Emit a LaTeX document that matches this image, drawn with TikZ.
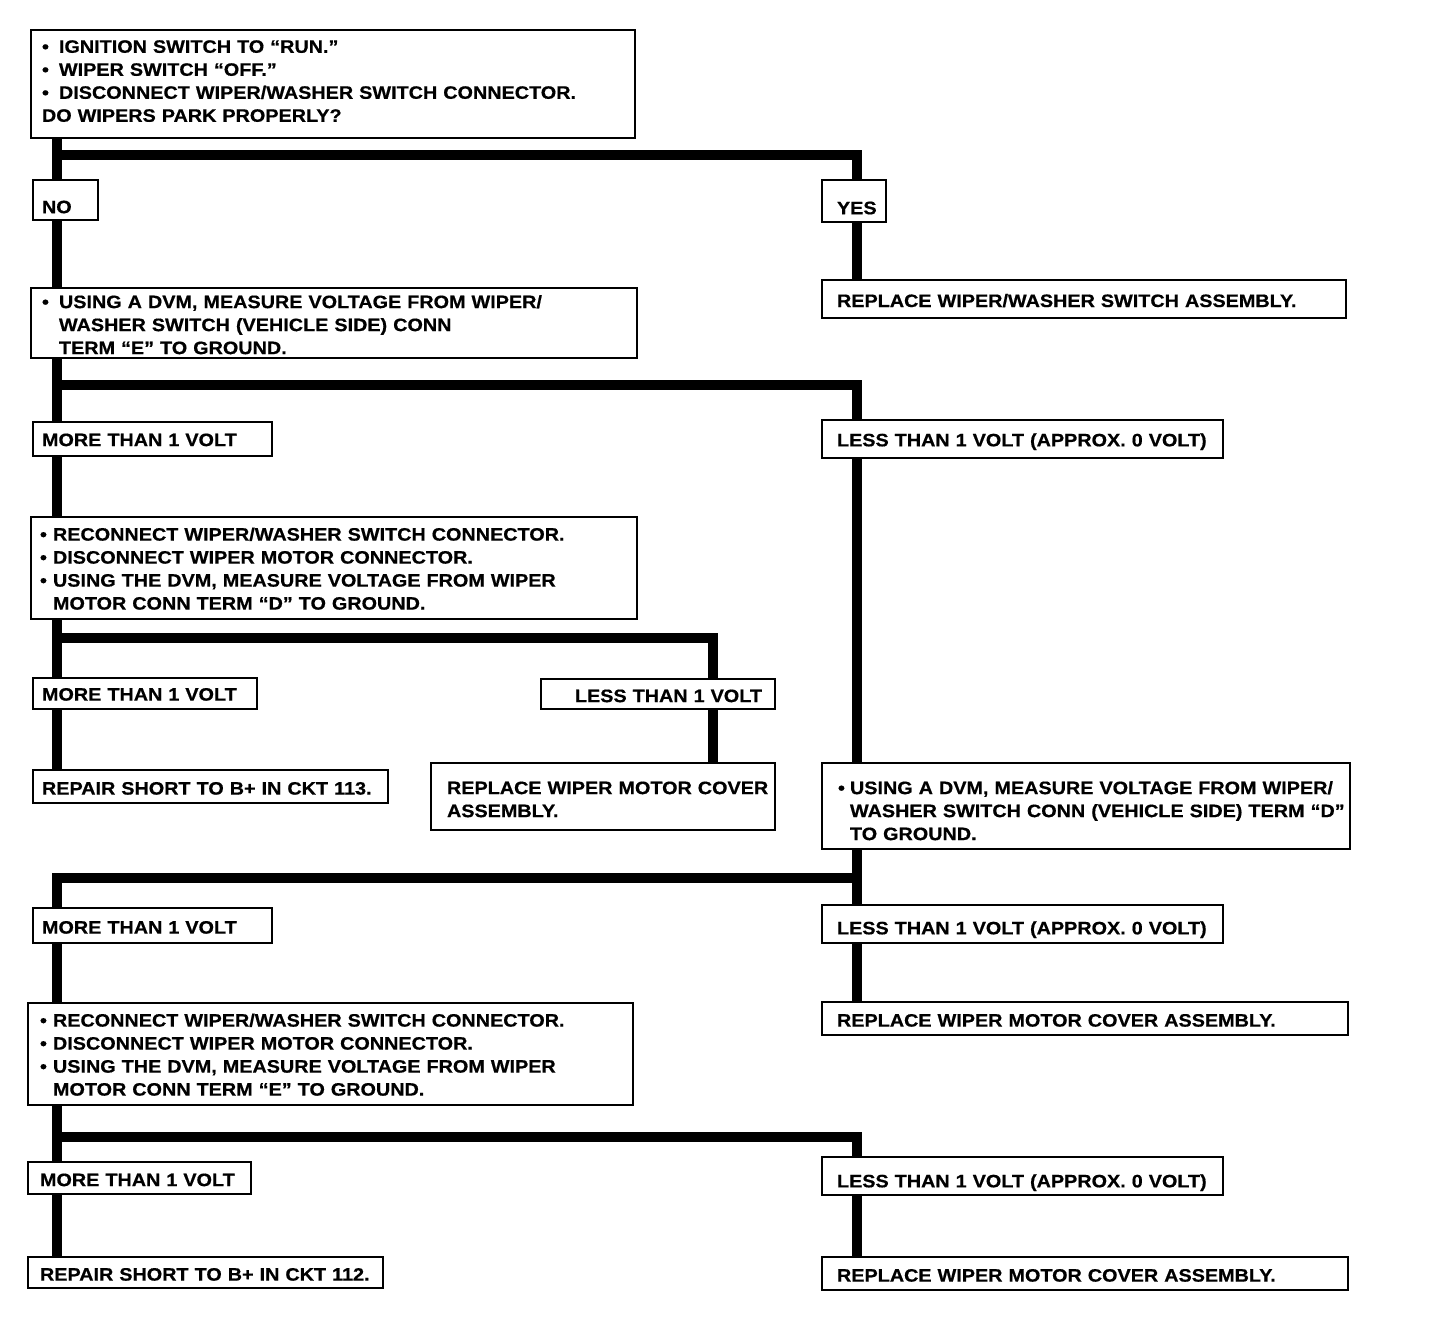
\documentclass[tikz,border=0pt]{standalone}
\usepackage{fontspec}
\newfontfamily\dfont{Liberation Sans Bold}[FakeStretch=1.1,FakeBold=0.6]
\newcommand\li[1]{\mbox{#1}}
\newcommand\bul[1]{\makebox[#1][l]{•}}
\newcommand\ind[1]{\hspace*{#1}}
% move the text of a box down (\dn) or up (\upx) by #1
\newcommand\dn[1]{\rule{0pt}{\dimexpr\fontcharht\font`\E+2\dimexpr#1\relax\relax}}
\newcommand\upx[1]{\rule[-2\dimexpr#1\relax]{0pt}{0pt}}
\newcommand\flowbox[8][]{%
  \pgfmathsetmacro\bW{#5-#3}\pgfmathsetmacro\bH{#6-#4}%
  \pgfmathsetmacro\bT{#5-#3-2*#7}%
  \pgfmathsetmacro\bX{(#3+#5)/2}\pgfmathsetmacro\bY{(#4+#6)/2}%
  \node[box, minimum width=\bW pt, minimum height=\bH pt, text width=\bT pt, inner xsep=#7pt, #1] (#2) at (\bX,\bY) {#8};}
\tikzset{
  box/.style={draw, line width=2.4pt, rectangle, fill=white, align=left, inner ysep=0pt,
    font=\dfont\fontsize{18}{23}\selectfont},
  conn/.style={line width=10pt, line cap=butt, line join=miter},
}
\begin{document}
\begin{tikzpicture}[x=1pt,y=-1pt]
\useasboundingbox (0,0) rectangle (1440,1342);
\fill[white] (0,0) rectangle (1440,1342);

\flowbox{q1}{31}{30}{635}{138}{11}{\li{\bul{17pt}IGNITION SWITCH TO “RUN.”}\\
\li{\bul{17pt}WIPER SWITCH “OFF.”}\\
\li{\bul{17pt}DISCONNECT WIPER/WASHER SWITCH CONNECTOR.}\\
\li{DO WIPERS PARK PROPERLY?}\upx{3pt}}
\flowbox{no}{33}{180}{98}{220}{9}{\raisebox{-7pt}[\height][\depth]{NO}}
\flowbox{yes}{822}{180}{886}{222}{15}{\raisebox{-7pt}[\height][\depth]{YES}}
\flowbox{rws}{822}{280}{1346}{318}{15}{\dn{2pt}\li{REPLACE WIPER/WASHER SWITCH ASSEMBLY.}}
\flowbox{q2}{31}{288}{637}{358}{11}{\dn{2pt}\li{\bul{17pt}USING A DVM, MEASURE VOLTAGE FROM WIPER/}\\
\li{\ind{17pt}WASHER SWITCH (VEHICLE SIDE) CONN}\\
\li{\ind{17pt}TERM “E” TO GROUND.}}
\flowbox{mt1}{33}{422}{272}{456}{9}{\dn{1pt}\li{MORE THAN 1 VOLT}}
\flowbox{lt1}{822}{420}{1223}{458}{15}{\dn{3pt}\li{LESS THAN 1 VOLT (APPROX. 0 VOLT)}}
\flowbox{q3}{31}{517}{637}{619}{9}{\dn{1pt}\li{\bul{13pt}RECONNECT WIPER/WASHER SWITCH CONNECTOR.}\\
\li{\bul{13pt}DISCONNECT WIPER MOTOR CONNECTOR.}\\
\li{\bul{13pt}USING THE DVM, MEASURE VOLTAGE FROM WIPER}\\
\li{\ind{13pt}MOTOR CONN TERM “D” TO GROUND.}}
\flowbox{mt2}{33}{678}{257}{709}{9}{\dn{1pt}\li{MORE THAN 1 VOLT}}
\flowbox[align=right]{lt2}{541}{679}{775}{709}{13}{\dn{2pt}\li{LESS THAN 1 VOLT}}
\flowbox{r113}{33}{770}{388}{803}{9}{\dn{2pt}\li{REPAIR SHORT TO B+ IN CKT 113.}}
\flowbox{rwmc1}{431}{763}{775}{830}{16}{\dn{3pt}\li{REPLACE WIPER MOTOR COVER}\\
\li{ASSEMBLY.}}
\flowbox{q4}{822}{763}{1350}{849}{16}{\dn{5pt}\li{\bul{12pt}USING A DVM, MEASURE VOLTAGE FROM WIPER/}\\
\li{\ind{12pt}WASHER SWITCH CONN (VEHICLE SIDE) TERM “D”}\\
\li{\ind{12pt}TO GROUND.}}
\flowbox{mt3}{33}{908}{272}{943}{9}{\dn{2pt}\li{MORE THAN 1 VOLT}}
\flowbox{lt3}{822}{905}{1223}{943}{15}{\dn{6pt}\li{LESS THAN 1 VOLT (APPROX. 0 VOLT)}}
\flowbox{rwmc2}{822}{1002}{1348}{1035}{15}{\dn{2pt}\li{REPLACE WIPER MOTOR COVER ASSEMBLY.}}
\flowbox{q5}{28}{1003}{633}{1105}{12}{\dn{1pt}\li{\bul{13pt}RECONNECT WIPER/WASHER SWITCH CONNECTOR.}\\
\li{\bul{13pt}DISCONNECT WIPER MOTOR CONNECTOR.}\\
\li{\bul{13pt}USING THE DVM, MEASURE VOLTAGE FROM WIPER}\\
\li{\ind{13pt}MOTOR CONN TERM “E” TO GROUND.}}
\flowbox{mt4}{28}{1162}{251}{1194}{12}{\dn{2pt}\li{MORE THAN 1 VOLT}}
\flowbox{lt4}{822}{1157}{1223}{1195}{15}{\dn{7pt}\li{LESS THAN 1 VOLT (APPROX. 0 VOLT)}}
\flowbox{r112}{28}{1257}{383}{1288}{12}{\dn{2pt}\li{REPAIR SHORT TO B+ IN CKT 112.}}
\flowbox{rwmc3}{822}{1257}{1348}{1290}{15}{\dn{2pt}\li{REPLACE WIPER MOTOR COVER ASSEMBLY.}}

\coordinate (L) at (57,0);
\coordinate (R) at (857,0);
\coordinate (M) at (713,0);
\coordinate (b1) at (57,155);
\coordinate (b2) at (57,385);
\coordinate (b3) at (57,638);
\coordinate (b4) at (857,878);
\coordinate (b5) at (57,1137);

\draw[conn] (q1.south -| L) -- (no.north -| L);
\draw[conn] (b1) -| (yes.north -| R);
\draw[conn] (no.south -| L) -- (q2.north -| L);
\draw[conn] (yes.south -| R) -- (rws.north -| R);
\draw[conn] (q2.south -| L) -- (mt1.north -| L);
\draw[conn] (b2) -| (lt1.north -| R);
\draw[conn] (mt1.south -| L) -- (q3.north -| L);
\draw[conn] (lt1.south -| R) -- (q4.north -| R);
\draw[conn] (q3.south -| L) -- (mt2.north -| L);
\draw[conn] (b3) -| (lt2.north -| M);
\draw[conn] (mt2.south -| L) -- (r113.north -| L);
\draw[conn] (lt2.south -| M) -- (rwmc1.north -| M);
\draw[conn] (q4.south -| R) -- (lt3.north -| R);
\draw[conn] (b4) -| (mt3.north -| L);
\draw[conn] (lt3.south -| R) -- (rwmc2.north -| R);
\draw[conn] (mt3.south -| L) -- (q5.north -| L);
\draw[conn] (q5.south -| L) -- (mt4.north -| L);
\draw[conn] (b5) -| (lt4.north -| R);
\draw[conn] (mt4.south -| L) -- (r112.north -| L);
\draw[conn] (lt4.south -| R) -- (rwmc3.north -| R);
\end{tikzpicture}
\end{document}
